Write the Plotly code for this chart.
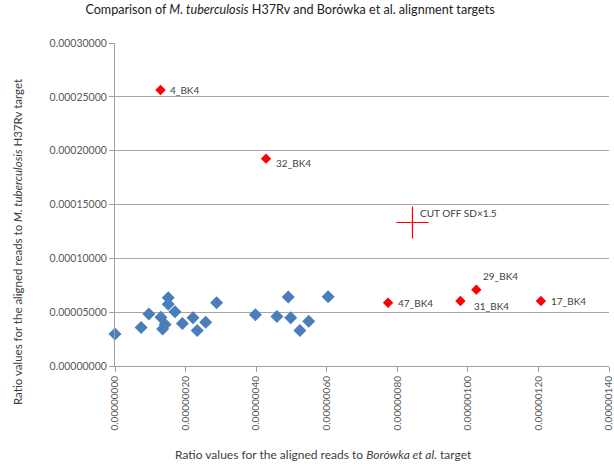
import plotly.graph_objects as go

# Data
blue_x = [0.000e-6, 0.074e-6, 0.096e-6, 0.130e-6, 0.135e-6, 0.142e-6, 0.151e-6, 0.151e-6,
          0.170e-6, 0.191e-6, 0.221e-6, 0.233e-6, 0.257e-6, 0.288e-6, 0.398e-6, 0.459e-6,
          0.491e-6, 0.498e-6, 0.524e-6, 0.549e-6, 0.604e-6]
blue_y = [2.98e-5, 3.57e-5, 4.84e-5, 4.52e-5, 3.44e-5, 3.85e-5, 6.35e-5, 5.73e-5,
          5.05e-5, 3.94e-5, 4.47e-5, 3.29e-5, 4.06e-5, 5.88e-5, 4.77e-5, 4.59e-5,
          6.41e-5, 4.47e-5, 3.29e-5, 4.15e-5, 6.44e-5]

red_labels = ["4_BK4", "32_BK4", "47_BK4", "31_BK4", "29_BK4", "17_BK4"]
red_x = [0.129e-6, 0.428e-6, 0.774e-6, 0.979e-6, 1.024e-6, 1.207e-6]
red_y = [25.63e-5, 19.26e-5, 5.88e-5, 6.04e-5, 7.09e-5, 6.04e-5]

cutoff_label = "CUT OFF SD×1.5"
cutoff_x = [0.843e-6]
cutoff_y = [13.33e-5]

x_ticks = [0, 0.2e-6, 0.4e-6, 0.6e-6, 0.8e-6, 1.0e-6, 1.2e-6, 1.4e-6]
y_ticks = [0, 5e-5, 10e-5, 15e-5, 20e-5, 25e-5, 30e-5]

FONT = "Lato"
TXT = "#404040"

fig = go.Figure()
fig.add_trace(go.Scatter(x=blue_x, y=blue_y, mode="markers",
                         marker=dict(symbol="diamond", size=10, color="#4A7EBB"),
                         cliponaxis=False, showlegend=False))
fig.add_trace(go.Scatter(x=red_x, y=red_y, mode="markers",
                         marker=dict(symbol="diamond", size=8, color="#FF0000"),
                         cliponaxis=False, showlegend=False))
fig.add_trace(go.Scatter(x=cutoff_x, y=cutoff_y, mode="markers",
                         marker=dict(symbol="cross-thin", size=23,
                                     line=dict(color="#FF0000", width=1.2)),
                         showlegend=False))

# label offsets (pixels)
offs = {"4_BK4": (7, 0), "32_BK4": (8, -4), "47_BK4": (8, 0), "31_BK4": (12, -5),
        "29_BK4": (5, 14), "17_BK4": (8, 0)}
annotations = []
for lab, x, y in zip(red_labels, red_x, red_y):
    dx, dy = offs[lab]
    annotations.append(dict(x=x, y=y, text=lab, showarrow=False, xanchor="left",
                            xshift=dx, yshift=dy, font=dict(family=FONT, size=10, color=TXT)))
annotations.append(dict(x=cutoff_x[0], y=cutoff_y[0], text=cutoff_label, showarrow=False,
                        xanchor="left", xshift=6, yshift=9,
                        font=dict(family=FONT, size=10, color=TXT)))
annotations.append(dict(xref="paper", yref="paper", x=0.423, y=-0.304,
                        text="Ratio values for the aligned reads to <i>Borówka et al.</i> target",
                        showarrow=False, font=dict(family=FONT, size=12, color=TXT)))
annotations.append(dict(xref="paper", yref="paper", x=-0.216, y=0.383, textangle=-90,
                        text="Ratio values for the aligned reads to <i>M. tuberculosis</i> H37Rv target",
                        showarrow=False, font=dict(family=FONT, size=11.5, color=TXT)))

fig.update_layout(
    width=614, height=472,
    margin=dict(l=115, r=5, t=43, b=106, autoexpand=False),
    paper_bgcolor="white", plot_bgcolor="white",
    title=dict(text="Comparison of <i>M. tuberculosis</i> H37Rv and Borówka et al. alignment targets",
               x=290 / 614, xanchor="center", y=1 - 10 / 472, yanchor="middle",
               font=dict(family=FONT, size=12.6, color="#222")),
    annotations=annotations,
    font=dict(family=FONT, color=TXT),
)
fig.update_xaxes(range=[0, 1.40001e-6], tickvals=x_ticks, tickformat=".8f", tickangle=-90,
                 automargin=False, ticklabeloverflow="allow",
                 showgrid=False, zeroline=False, showline=True, linecolor="#A0A0A0",
                 ticks="outside", ticklen=5, tickcolor="#A0A0A0",
                 tickfont=dict(family=FONT, size=10, color="#595959"))
fig.update_yaxes(range=[0, 3.00001e-4], tickvals=y_ticks, tickformat=".8f",
                 automargin=False, ticklabeloverflow="allow",
                 showgrid=True, gridcolor="#A6A6A6", gridwidth=1, zeroline=False,
                 showline=True, linecolor="#A0A0A0",
                 ticks="outside", ticklen=5, tickcolor="#A0A0A0",
                 tickfont=dict(family=FONT, size=10.5, color="#595959"))

fig.write_html("out.html", config={"displayModeBar": False},
               post_script="document.body.style.margin='0';")
